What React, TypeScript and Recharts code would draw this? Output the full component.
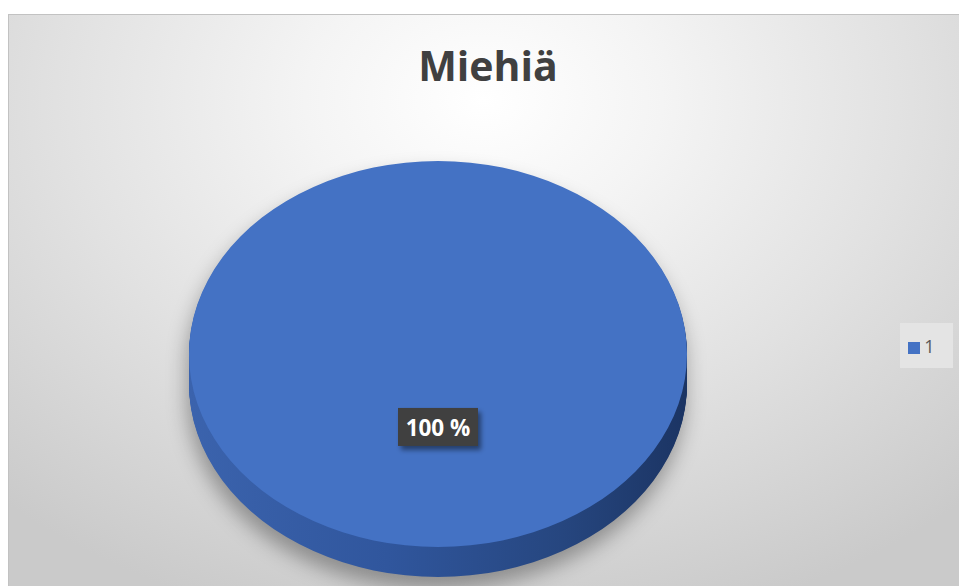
import React from 'react';
import { PieChart, Pie, Legend } from 'recharts';

// ---- data ----
const categories: string[] = ['1'];
const values: number[] = [1];
const chartTitle = 'Miehiä';

const data = categories.map((name, i) => ({ name, value: values[i] }));

// ---- layout ----
const W = 951;
const H = 572;
const SY = 0.775; // vertical squash for the tilted pie
const CX = 430;
const CY = 340;
const RX = 249;
const RY = 193;
const DEPTH = 30;
const sideOffsets: number[] = Array.from({ length: DEPTH }, (_, i) => DEPTH - i);
const M0 = { top: 0, right: 0, bottom: 0, left: 0 };

const RAD = Math.PI / 180;

const renderLabel = (props: any) => {
  const { cx, cy, midAngle, outerRadius, percent } = props;
  const r = outerRadius * 0.378;
  const x = cx + r * Math.cos(-midAngle * RAD);
  const y = cy + r * Math.sin(-midAngle * RAD);
  const bw = 80;
  const bh = 38;
  return (
    <g>
      <rect x={x - bw / 2 + 3} y={y - bh / 2 + 4} width={bw} height={bh} fill="rgba(0,0,0,0.45)" filter="url(#lblBlur)" />
      <rect x={x - bw / 2} y={y - bh / 2} width={bw} height={bh} fill="#404040" />
      <text
        x={x}
        y={y + 1}
        textAnchor="middle"
        dominantBaseline="central"
        fill="#ffffff"
        fontSize={22.5}
        fontWeight={700}
        fontFamily="'Open Sans', sans-serif"
      >
        {`${Math.round(percent * 100)} %`}
      </text>
    </g>
  );
};

export default function App() {
  return (
    <div>
      <style>{'html,body{margin:0;padding:0;overflow:hidden;}'}</style>
      <div
        style={{
          position: 'absolute',
          left: 8,
          top: 14,
          width: W,
          height: H,
          overflow: 'hidden',
          background:
            'radial-gradient(ellipse 75% 95% at 50% 15%, #ffffff 0%, #f4f4f4 25%, #e1e1e1 60%, #cacaca 100%)',
          boxShadow: 'inset 1px 1px 0 #c2c2c2',
        }}
      >
        {/* 3D pie body (squashed vertically) */}
        <div
          style={{
            position: 'absolute',
            left: 0,
            top: 0,
            width: W,
            height: H,
            filter: 'drop-shadow(-2px 12px 10px rgba(0,0,0,0.33))',
          }}
        >
          <div
            style={{
              position: 'absolute',
              left: 0,
              top: 0,
              width: W,
              height: 740,
              transform: `scaleY(${SY})`,
              transformOrigin: '0 0',
            }}
          >
            <PieChart width={W} height={740} margin={M0}>
              <defs>
                <linearGradient id="sideGrad" x1="0" y1="0" x2="1" y2="0">
                  <stop offset="0%" stopColor="#3b63ad" />
                  <stop offset="40%" stopColor="#30569d" />
                  <stop offset="75%" stopColor="#26467f" />
                  <stop offset="100%" stopColor="#1b3463" />
                </linearGradient>
              </defs>
              {sideOffsets.map((k) => (
                <Pie
                  key={`side-${k}`}
                  data={data}
                  dataKey="value"
                  nameKey="name"
                  cx={CX}
                  cy={(CY + k) / SY}
                  outerRadius={RX}
                  startAngle={90}
                  endAngle={-270}
                  fill="url(#sideGrad)"
                  stroke="none"
                  legendType="none"
                  isAnimationActive={false}
                />
              ))}
              <Pie
                data={data}
                dataKey="value"
                nameKey="name"
                cx={CX}
                cy={CY / SY}
                outerRadius={RX}
                startAngle={90}
                endAngle={-270}
                fill="#4472C4"
                stroke="none"
                legendType="none"
                isAnimationActive={false}
              />
            </PieChart>
          </div>
        </div>

        {/* overlay: title, data label, legend */}
        <div style={{ position: 'absolute', left: 0, top: 0, width: W, height: H }}>
          <PieChart width={W} height={H} margin={M0}>
            <defs>
              <filter id="lblBlur" x="-20%" y="-20%" width="140%" height="140%">
                <feGaussianBlur stdDeviation="2.5" />
              </filter>
            </defs>
            <text
              x={480}
              y={67}
              textAnchor="middle"
              fill="#404040"
              fontSize={41}
              fontWeight={700}
              fontFamily="'Open Sans', sans-serif"
            >
              {chartTitle}
            </text>
            <Pie
              data={data}
              dataKey="value"
              nameKey="name"
              cx={CX}
              cy={CY}
              outerRadius={RY}
              startAngle={90}
              endAngle={-270}
              fill="#4472C4"
              fillOpacity={0}
              stroke="none"
              labelLine={false}
              label={renderLabel}
              legendType="square"
              isAnimationActive={false}
            />
            <Legend
              layout="vertical"
              align="right"
              verticalAlign="middle"
              iconType="square"
              iconSize={12}
              wrapperStyle={{
                left: 892,
                top: 309,
                right: 'auto',
                bottom: 'auto',
                width: 53,
                height: 45,
                background: '#e4e4e4',
                display: 'flex',
                alignItems: 'center',
                justifyContent: 'center',
                fontFamily: "'Open Sans', sans-serif",
                fontSize: 18,
              }}
              formatter={(v: any) => <span style={{ color: '#595959', fontSize: 18 }}>{v}</span>}
            />
          </PieChart>
        </div>
      </div>
    </div>
  );
}
